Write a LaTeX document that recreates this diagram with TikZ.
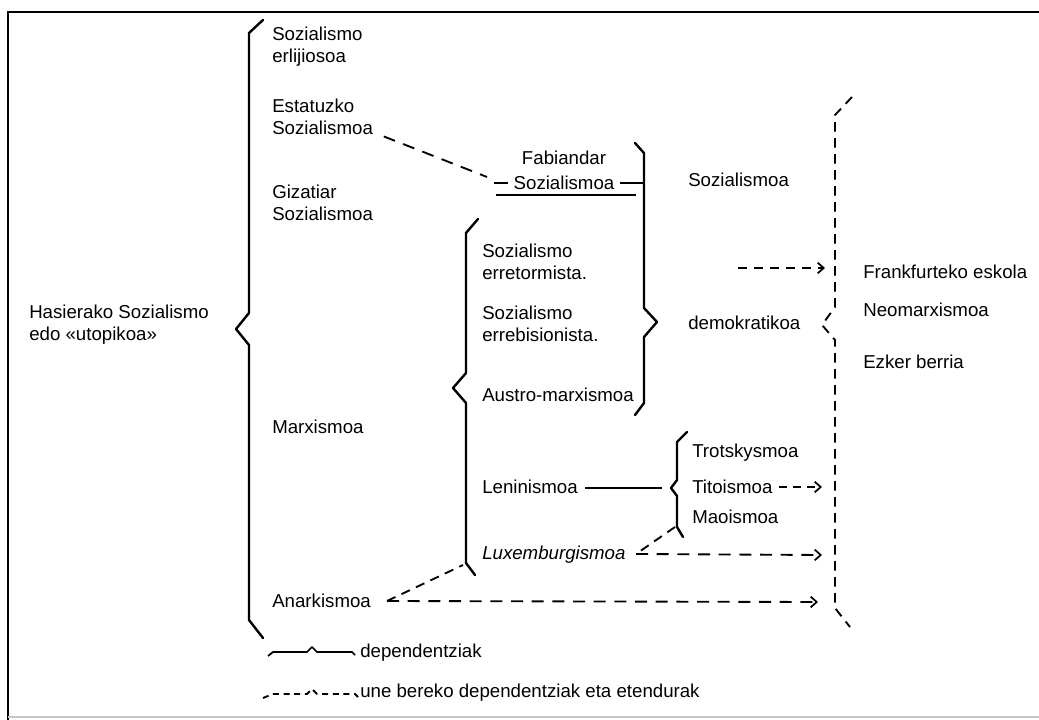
\documentclass[tikz,border=0pt]{standalone}
\usepackage{fontspec}
\setmainfont{Liberation Sans}
\usetikzlibrary{arrows.meta}
\begin{document}
\begin{tikzpicture}[x=0.75pt,y=-0.75pt,
  lbl/.style={anchor=west,inner sep=0pt,align=left,font=\fontsize{14}{16.5}\selectfont},
  brace/.style={line width=1.8pt,line join=round,line cap=round},
  solidln/.style={line width=1.3pt},
  dsh/.style={line width=1.4pt,dash pattern=on 7pt off 5pt},
  longdsh/.style={line width=1.4pt,dash pattern=on 9pt off 6.5pt},
  arr/.style={-{Straight Barb[length=4.5pt,width=8pt,line width=1.3pt]}},
  framel/.style={line width=2pt}]
\useasboundingbox (0,0) rectangle (1039,720);
% frame
\draw[framel] (8,720) -- (8,12) -- (1039,12);
\draw[gray!45,line width=1pt] (8,717) -- (1039,717);

% main brace
\draw[brace] (263,20) -- (249,33) -- (249,313) -- (236,329) -- (249,345) -- (249,620) -- (263,638);
\node[lbl] (has) at (29,325) {Hasierako Sozialismo\\edo «utopikoa»};

% first column
\node[lbl] (erl) at (272,47) {Sozialismo\\erlijiosoa};
\node[lbl] (est) at (272,117) {Estatuzko\\Sozialismoa};
\node[lbl] (giz) at (272,203) {Gizatiar\\Sozialismoa};
\node[lbl] (marx) at (272,427) {Marxismoa};
\node[lbl] (anar) at (272,601) {Anarkismoa};

% Fabian
\node[lbl,anchor=center,align=center] (fab) at (564,170) {Fabiandar\\[2pt]Sozialismoa};
\coordinate (fabin) at (487,177);
\draw[longdsh] ([xshift=8pt,yshift=-1pt]est.south east) -- (fabin);
\draw[solidln] (494,183) -- (508,183);
\draw[solidln] (620,183) -- (644,183);
\draw[solidln] (496,195) -- (636,195);

% social democracy brace
\draw[brace] (635,143) -- (644,153) -- (644,308) -- (657,322) -- (644,337) -- (644,403) -- (635,415);
\node[lbl] (soz) at (688,180) {Sozialismoa};
\node[lbl] (dem) at (688,323) {demokratikoa};

% marxism brace
\draw[brace] (478,219) -- (466,233) -- (466,373) -- (453,388) -- (466,403) -- (466,563) -- (475,575);
\node[lbl] (ref) at (482,262) {Sozialismo\\erretormista.};
\node[lbl] (reb) at (482,324) {Sozialismo\\errebisionista.};
\node[lbl] (aus) at (482,395) {Austro-marxismoa};
\node[lbl] (len) at (482,487) {Leninismoa};
\node[lbl,font=\fontsize{14}{16.5}\selectfont\itshape] (lux) at (482,555) {Luxemburgismoa};

% leninism
\coordinate (lenb) at (662,488);
\draw[solidln] (585,488) -- (lenb);
\draw[brace] (687,432) -- (677,442) -- (677,480) -- (671,488) -- (677,496) -- (677,527) -- (683,537);
\node[lbl] (tro) at (692,453) {Trotskysmoa};
\node[lbl] (tit) at (692,487) {Titoismoa};
\node[lbl] (mao) at (692,517) {Maoismoa};

% right dashed brace
\draw[dsh,line join=round] (852,97) -- (835,115) -- (835,307) -- (822,325) -- (835,340) -- (835,608) -- (850,627);
\node[lbl] (fra) at (863,272) {Frankfurteko eskola};
\node[lbl] (neo) at (863,310) {Neomarxismoa};
\node[lbl] (ezk) at (863,362) {Ezker berria};

% arrows
\coordinate (frs) at (738,268);
\coordinate (fre) at (825,268);
\draw[dsh,arr] (frs) -- (fre);
\coordinate (tite) at (822,487);
\draw[dsh,dash pattern=on 6pt off 4.5pt,arr] ([xshift=5pt]tit.east) -- (tite);
\coordinate (maob) at (675,527);
\coordinate (luxj) at (636,554);
\draw[dsh] (maob) -- (luxj);
\coordinate (luxe) at (822,555);
\draw[longdsh,arr] (luxj) -- (luxe);
\coordinate (marxb) at (463,565);
\coordinate (anj) at (387,601);
\draw[dsh] (anj) -- (marxb);
\coordinate (ane) at (818,602);
\draw[longdsh,arr] (anj) -- (ane);

% legend
\draw[solidln,line join=round] (268,656) -- (273,652) -- (307,652) -- (312,647) -- (317,652) -- (352,652) -- (355,655);
\node[lbl] (leg1) at (360,653) {dependentziak};
\draw[dsh,dash pattern=on 4.5pt off 3.5pt,line join=round] (263,698) -- (273,694) -- (307,694) -- (312,689) -- (317,694) -- (355,694) -- (358,697);
\node[lbl] (leg2) at (360,693) {une bereko dependentziak eta etendurak};
\end{tikzpicture}
\end{document}
